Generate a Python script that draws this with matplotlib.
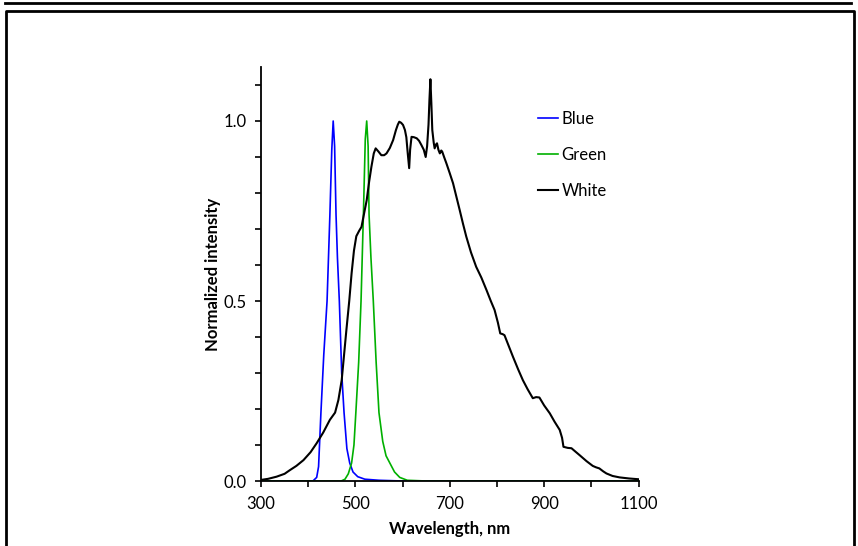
import numpy as np
import matplotlib.pyplot as plt
from matplotlib.lines import Line2D
from matplotlib.ticker import FixedLocator, MultipleLocator

plt.rcParams['font.family'] = ['Lato', 'DejaVu Sans']

# Blue LED spectrum (wavelength nm, normalized intensity)
blue_nm = [300, 410, 418, 422, 427, 433, 440, 446, 450, 453, 456, 459, 462, 466,
           471, 476, 482, 488, 495, 505, 520, 550, 600, 1100]
blue_val = [0, 0, 0.01, 0.04, 0.19, 0.35, 0.5, 0.74, 0.92, 1.0, 0.93, 0.74, 0.62, 0.5,
            0.3, 0.19, 0.09, 0.05, 0.025, 0.012, 0.005, 0.002, 0, 0]

# Green LED spectrum
green_nm = [300, 470, 478, 485, 492, 497, 501, 507, 512, 517, 521, 524, 527, 529,
            533, 538, 544, 550, 558, 565, 573, 583, 594, 610, 650, 1100]
green_val = [0, 0, 0.005, 0.02, 0.05, 0.1, 0.19, 0.33, 0.5, 0.74, 0.95, 1.0, 0.93, 0.74,
             0.62, 0.5, 0.33, 0.19, 0.11, 0.07, 0.05, 0.025, 0.01, 0.002, 0, 0]

# White LED spectrum
white_nm = [300, 315, 333, 350, 361, 375, 390, 405, 418, 432, 446, 457, 464, 471, 476,
            481, 487, 492, 497, 502, 508, 513, 518, 524, 529, 534, 539, 543, 549, 555,
            561, 566, 573, 580, 586, 590, 593, 597, 601, 605, 608, 611, 614, 616, 619,
            624, 630, 635, 640, 645, 649, 652, 655, 657, 659, 661, 663, 666, 668, 671,
            673, 676, 679, 682, 684, 688, 693, 700, 707, 714, 721, 728, 735, 745, 756,
            767, 778, 787, 795, 802, 807, 812, 816, 825, 834, 845, 855, 865, 876, 883,
            890, 900, 912, 922, 933, 938, 941, 950, 958, 966, 975, 990, 1003, 1010, 1017,
            1025, 1032, 1045, 1060, 1080, 1099]
white_val = [0.003, 0.006, 0.012, 0.02, 0.03, 0.042, 0.058, 0.08, 0.105, 0.135, 0.17, 0.19,
             0.225, 0.28, 0.35, 0.42, 0.5, 0.577, 0.64, 0.68, 0.695, 0.706, 0.74, 0.78, 0.83,
             0.873, 0.91, 0.924, 0.915, 0.905, 0.905, 0.91, 0.925, 0.947, 0.975, 0.99, 0.998,
             0.995, 0.989, 0.975, 0.955, 0.91, 0.869, 0.92, 0.956, 0.955, 0.952, 0.945, 0.933,
             0.92, 0.9, 0.93, 0.99, 1.06, 1.116, 1.05, 0.975, 0.94, 0.924, 0.935, 0.938, 0.92,
             0.91, 0.918, 0.915, 0.9, 0.882, 0.855, 0.827, 0.79, 0.753, 0.715, 0.679, 0.635,
             0.595, 0.565, 0.53, 0.5, 0.475, 0.44, 0.41, 0.408, 0.405, 0.375, 0.345, 0.31,
             0.28, 0.255, 0.23, 0.233, 0.232, 0.21, 0.188, 0.165, 0.142, 0.12, 0.095, 0.092,
             0.091, 0.082, 0.072, 0.055, 0.042, 0.038, 0.035, 0.027, 0.021, 0.014, 0.01,
             0.007, 0.005]

x_major = [300, 500, 700, 900, 1100]
y_major = [0.0, 0.5, 1.0]

fig = plt.figure(figsize=(8.58, 5.46), dpi=100)
ax = fig.add_axes([261/858, 65/546, 377.5/858, 414/546])

ax.plot(blue_nm, blue_val, color='#0000ff', lw=1.2, label='Blue')
ax.plot(green_nm, green_val, color='#00b000', lw=1.2, label='Green')
ax.plot(white_nm, white_val, color='black', lw=1.5, label='White')

ax.set_xlim(300, 1100)
ax.set_ylim(0, 1.15)
ax.xaxis.set_major_locator(FixedLocator(x_major))
ax.xaxis.set_minor_locator(MultipleLocator(100))
ax.yaxis.set_major_locator(FixedLocator(y_major))
ax.yaxis.set_minor_locator(MultipleLocator(0.1))
ax.yaxis.set_major_formatter(plt.FormatStrFormatter('%.1f'))
ax.tick_params(which='both', direction='out', length=4, width=1.2, labelsize=12)
ax.tick_params(axis='x', pad=7)
ax.tick_params(axis='y', pad=6)
for s in ['top', 'right']:
    ax.spines[s].set_visible(False)
for s in ['left', 'bottom']:
    ax.spines[s].set_linewidth(1.3)

ax.set_xlabel('Wavelength, nm', fontsize=12, fontweight='bold', labelpad=6)
ax.set_ylabel('Normalized intensity', fontsize=12, fontweight='bold', labelpad=2)

ax.legend(loc='center left', bbox_to_anchor=((538-261)/377.5, (481-155)/414),
          frameon=False, fontsize=12, handlelength=1.2, handletextpad=0.2,
          labelspacing=1.2, borderpad=0, borderaxespad=0)

# page frame
fig.add_artist(Line2D([5/858, 851/858], [1-3/546, 1-3/546], color='black', lw=2,
                      transform=fig.transFigure))
fig.add_artist(Line2D([6/858, 6/858, 854/858, 854/858], [0, 1-11/546, 1-11/546, 0],
                      color='black', lw=2, transform=fig.transFigure))

plt.savefig('out.png', dpi=100)
